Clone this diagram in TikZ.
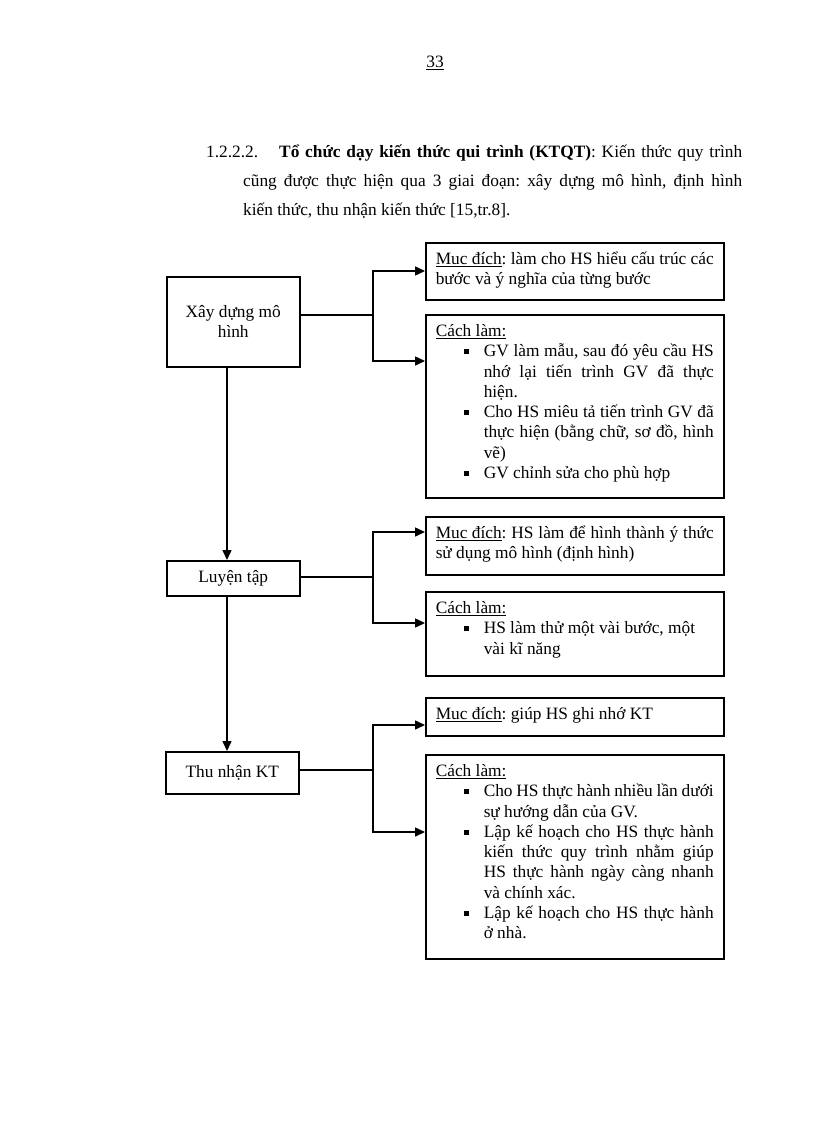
\documentclass[tikz,border=0pt]{standalone}
\usepackage{fontspec}
\setmainfont{Liberation Serif}
\usetikzlibrary{arrows.meta}
\frenchspacing
% text of the right-hand boxes, top aligned
\newcommand\boxtxt[2]{\parbox[c][#1][t]{278pt}{\fontsize{17.33}{20.3}\selectfont\vspace*{7.5pt}#2}}
\newcommand\bitem[1]{\par{\leftskip=48pt\noindent\llap{\makebox[20pt][l]{\raisebox{2.5pt}{\rule{5pt}{5pt}}}}#1\par}}
\begin{document}
\begin{tikzpicture}[x=1pt,y=-1pt,
  conn/.style={line width=1.5pt},
  arr/.style={conn,-{Triangle[length=10pt,width=9pt]}},
  lbox/.style={draw,line width=1.5pt,anchor=north west,inner sep=0pt,minimum width=133pt,align=center,font=\fontsize{17.33}{20.3}\selectfont},
  rbox/.style={draw,line width=1.5pt,anchor=north west,inner xsep=10pt,inner ysep=0pt}]
\fill[white] (0,0) rectangle (816,1123);
\useasboundingbox (0,0) rectangle (816,1123);
\node[anchor=base,inner sep=0pt,font=\fontsize{17.33}{20}\selectfont] (pageno) at (435,68) {\underline{33}};
\node[anchor=base west,inner sep=0pt] (head) at (243,158) {\parbox[t]{499pt}{\fontsize{17.33}{28.6}\selectfont
  \hspace*{-37pt}\makebox[73pt][l]{1.2.2.2.}\textbf{Tổ chức dạy kiến thức qui trình (KTQT)}: Kiến thức quy trình\linebreak
  cũng được thực hiện qua 3 giai đoạn: xây dựng mô hình, định hình\linebreak
  kiến thức, thu nhận kiến thức [15,tr.8].}};
% left column
\node[lbox,minimum height=90pt] (xay) at (166,276) {Xây dựng mô\\hình};
\node[lbox,minimum height=35pt] (luyen) at (166,560) {Luyện tập};
\node[lbox,minimum height=42pt] (thu) at (165,751) {Thu nhận KT};
% right column
\node[rbox] (md1) at (425,242) {\boxtxt{57pt}{\strut\underline{Muc đích}: làm cho HS hiểu cấu trúc các\linebreak bước và ý nghĩa của từng bước}};
\node[rbox] (cl1) at (425,314) {\boxtxt{183pt}{\strut\underline{Cách làm:}
  \bitem{GV làm mẫu, sau đó yêu cầu HS\linebreak nhớ lại tiến trình GV đã thực\linebreak hiện.}
  \bitem{Cho HS miêu tả tiến trình GV đã\linebreak thực hiện (bằng chữ, sơ đồ, hình\linebreak vẽ)}
  \bitem{GV chỉnh sửa cho phù hợp}}};
\node[rbox] (md2) at (425,516) {\boxtxt{58pt}{\strut\underline{Muc đích}: HS làm để hình thành ý thức\linebreak sử dụng mô hình (định hình)}};
\node[rbox] (cl2) at (425,591) {\boxtxt{84pt}{\strut\underline{Cách làm:}
  \bitem{HS làm thử một vài bước, một\\vài kĩ năng}}};
\node[rbox] (md3) at (425,697) {\boxtxt{38pt}{\strut\underline{Muc đích}: giúp HS ghi nhớ KT}};
\node[rbox] (cl3) at (425,754) {\boxtxt{204pt}{\strut\underline{Cách làm:}
  \bitem{Cho HS thực hành nhiều lần dưới\linebreak sự hướng dẫn của GV.}
  \bitem{Lập kế hoạch cho HS thực hành\linebreak kiến thức quy trình nhằm giúp\linebreak HS thực hành ngày càng nhanh\linebreak và chính xác.}
  \bitem{Lập kế hoạch cho HS thực hành\linebreak ở nhà.}}};
% forks
\coordinate (sp) at (227,0);
\coordinate (f1) at (373,315); \coordinate (f1a) at (373,271); \coordinate (f1b) at (373,361);
\coordinate (f2) at (373,577); \coordinate (f2a) at (373,532); \coordinate (f2b) at (373,623);
\coordinate (f3) at (373,770); \coordinate (f3a) at (373,725); \coordinate (f3b) at (373,832);
\draw[conn] (xay.east |- f1) -- (f1);
\draw[arr] (f1) |- (md1.west |- f1a);
\draw[arr] (f1) |- (cl1.west |- f1b);
\draw[conn] (luyen.east |- f2) -- (f2);
\draw[arr] (f2) |- (md2.west |- f2a);
\draw[arr] (f2) |- (cl2.west |- f2b);
\draw[conn] (thu.east |- f3) -- (f3);
\draw[arr] (f3) |- (md3.west |- f3a);
\draw[arr] (f3) |- (cl3.west |- f3b);
\draw[arr] (xay.south -| sp) -- (luyen.north -| sp);
\draw[arr] (luyen.south -| sp) -- (thu.north -| sp);
\end{tikzpicture}
\end{document}
